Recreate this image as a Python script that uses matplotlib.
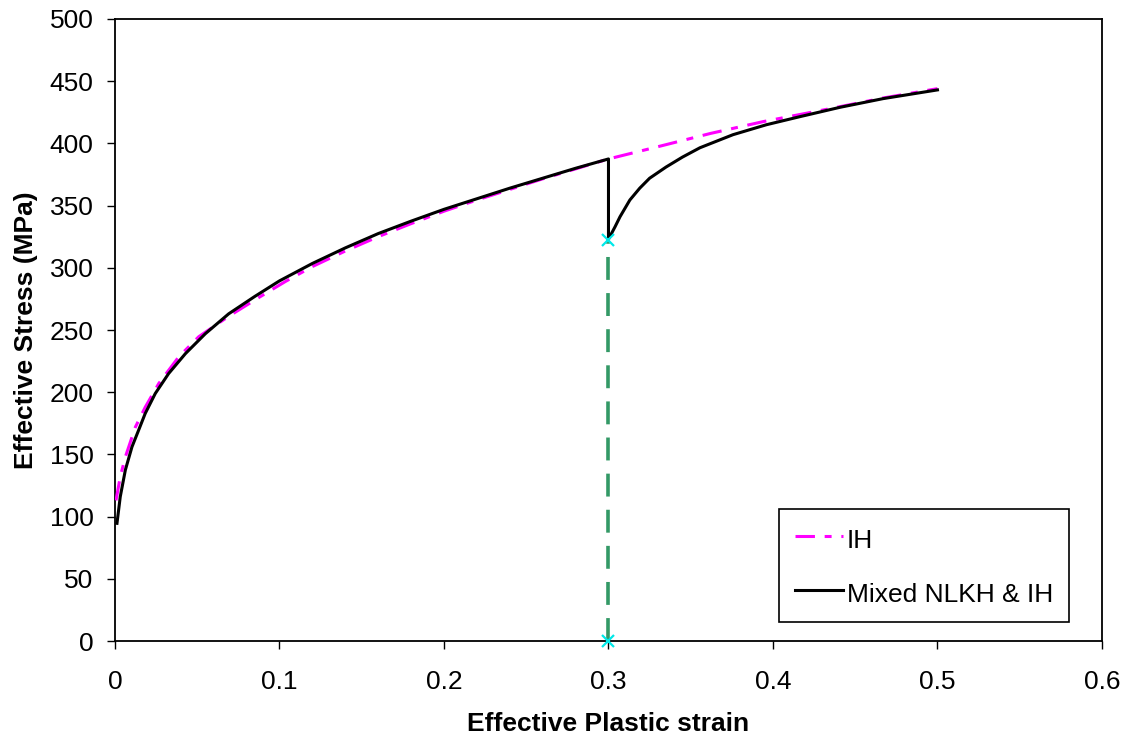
import matplotlib.pyplot as plt

plt.rcParams['font.family'] = ['Liberation Sans', 'DejaVu Sans']
plt.rcParams['lines.scale_dashes'] = False

# isotropic hardening curve
ih_strain = [0.0006, 0.0032, 0.0063, 0.0124, 0.0184, 0.0266, 0.0388, 0.0509,
             0.0691, 0.0873, 0.1036, 0.12, 0.14, 0.16, 0.18, 0.2, 0.22, 0.24,
             0.26, 0.28, 0.3, 0.329, 0.362, 0.394, 0.435, 0.467, 0.5]
ih_stress = [113, 132, 148, 172, 188, 207, 228.5, 244.6,
             261, 276, 289, 301, 313.5, 325, 335.5, 345.5, 354.5, 363,
             371.5, 379.5, 387.5, 397, 408, 417.5, 428, 436.5, 444]

# mixed nonlinear kinematic + isotropic hardening (unloaded at 0.3)
mix_strain = [0.0012, 0.0032, 0.0063, 0.0103, 0.0144, 0.0184, 0.0245, 0.0326,
              0.0428, 0.0549, 0.0691, 0.085, 0.1, 0.12, 0.14, 0.16, 0.18, 0.2,
              0.22, 0.24, 0.26, 0.28, 0.3,
              0.3, 0.304, 0.307, 0.313, 0.319, 0.325, 0.335, 0.345, 0.3556,
              0.3757, 0.396, 0.4164, 0.4407, 0.467, 0.5]
mix_stress = [94.6, 116, 137.5, 156, 169.6, 183, 199, 215,
              231, 247, 263, 277, 289.5, 303.5, 316, 327.5, 337.5, 347,
              355.5, 364, 372, 380, 387.5,
              323, 333, 341, 354.5, 364, 372, 381, 389, 396.5,
              407, 415, 421.5, 429, 436, 443]

# reload point: vertical marker line
reload_strain = [0.3, 0.3]
reload_stress = [0, 322]

fig = plt.figure(figsize=(11.33, 7.42), dpi=100)
ax = fig.add_axes([0.1015, 0.1361, 0.8711, 0.8383])

ax.plot(reload_strain, reload_stress, color='#339966', lw=2.6,
        linestyle=(0, (16.5, 9.5)), zorder=2)
ax.plot(reload_strain, reload_stress, linestyle='none', marker='x',
        color='#00e8e8', ms=9, mew=1.6, clip_on=False, zorder=5)
ax.plot(ih_strain, ih_stress, color='#ff00ff', lw=2.2,
        linestyle=(0, (14, 7, 5, 7)), label='IH', zorder=3)
ax.plot(mix_strain, mix_stress, color='black', lw=2.2,
        solid_joinstyle='round', label='Mixed NLKH & IH', zorder=4)

ax.set_xlim(0, 0.6)
ax.set_ylim(0, 500)
ax.set_xticks([0, 0.1, 0.2, 0.3, 0.4, 0.5, 0.6])
ax.set_xticklabels(['0', '0.1', '0.2', '0.3', '0.4', '0.5', '0.6'])
ax.set_yticks(range(0, 501, 50))
ax.tick_params(labelsize=19, length=6, width=1, direction='out')
ax.tick_params(axis='x', pad=15)
ax.tick_params(axis='y', pad=9.5)
for sp in ax.spines.values():
    sp.set_linewidth(1.3)

ax.set_xlabel('Effective Plastic strain', fontsize=19, fontweight='bold', labelpad=12.5)
ax.set_ylabel('Effective Stress (MPa)', fontsize=19, fontweight='bold', labelpad=8.5)

leg = ax.legend(loc='upper left', bbox_to_anchor=(0.673, 0.212), borderaxespad=0,
                fontsize=19, fancybox=False, edgecolor='black', framealpha=1,
                handlelength=1.8, handleheight=1.25, handletextpad=0.15,
                labelspacing=0.98, borderpad=0.6)
leg.get_frame().set_linewidth(1.2)

fig.savefig('out.png', dpi=100, facecolor='white')
